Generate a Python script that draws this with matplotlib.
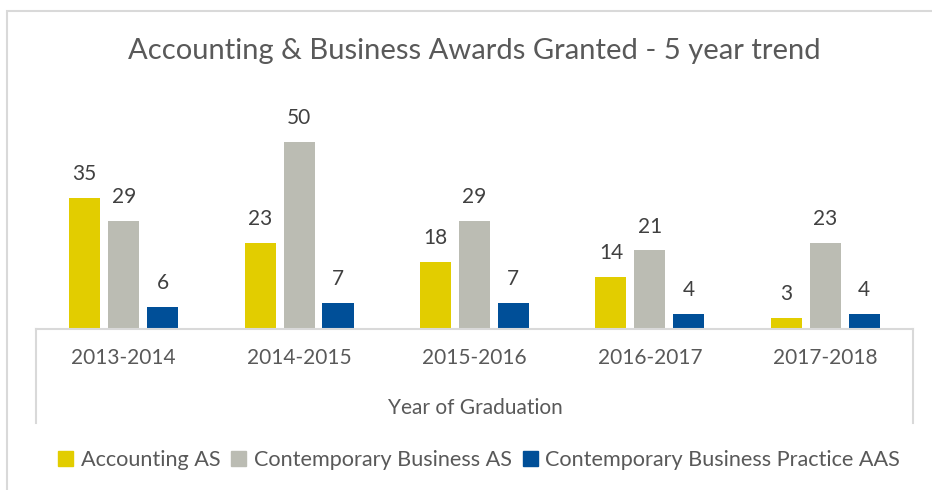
import matplotlib.pyplot as plt
import numpy as np
from matplotlib.patches import Patch, Rectangle

plt.rcParams["font.family"] = ["Lato", "DejaVu Sans"]

years = ["2013-2014", "2014-2015", "2015-2016", "2016-2017", "2017-2018"]
series_names = [
    "Accounting AS",
    "Contemporary Business AS",
    "Contemporary Business Practice AAS",
]
accounting = [35, 23, 18, 14, 3]
contemporary = [29, 50, 29, 21, 23]
practice = [6, 7, 7, 4, 4]
colors = ["#E2CD00", "#BBBCB3", "#004F98"]

fig = plt.figure(figsize=(9.32, 4.9), dpi=100)
ax = fig.add_axes([0.0386, 0.3286, 0.941, 0.4197])

x = np.arange(len(years))
width = 0.177
step = 0.222
for i, (vals, name) in enumerate(zip([accounting, contemporary, practice], series_names)):
    bars = ax.bar(x + (i - 1) * step, vals, width, color=colors[i], label=name)
    for b, v in zip(bars, vals):
        ax.annotate(str(v), (b.get_x() + b.get_width() / 2, v),
                    xytext=(0, 10), textcoords="offset points",
                    ha="center", va="bottom", fontsize=15, color="#404040")

ax.set_xlim(-0.5, 4.5)
ax.set_ylim(0, 55)
ax.set_yticks([])
ax.set_xticks(x)
ax.set_xticklabels(years, fontsize=15, color="#595959")
ax.tick_params(axis="x", length=0, pad=14)
for s in ["left", "right", "top"]:
    ax.spines[s].set_visible(False)
ax.spines["bottom"].set_color("#D9D9D9")
ax.spines["bottom"].set_linewidth(1.5)

# category box lines below the axis
for xa in [0, 1]:
    ax.plot([xa, xa], [0, -0.457], transform=ax.transAxes, color="#D9D9D9",
            lw=1.5, clip_on=False)

fig.text(475 / 932, 1 - 408 / 490, "Year of Graduation", ha="center", va="center",
         fontsize=15, color="#595959")
fig.text(474 / 932, 1 - 51 / 490, "Accounting & Business Awards Granted - 5 year trend",
         ha="center", va="center", fontsize=21, color="#595959")

handles = [Patch(color=c) for c in colors]
fig.legend(handles, series_names, loc="center", bbox_to_anchor=(479 / 932, 1 - 460 / 490),
           ncol=3, frameon=False, fontsize=15.6, labelcolor="#595959",
           handlelength=0.7, handleheight=0.7, handletextpad=0.35, columnspacing=0.5)

fig.patches.append(Rectangle((7 / 932, -0.1), 1.0, 1.1 - 11 / 490,
                             transform=fig.transFigure, fill=False,
                             edgecolor="#D9D9D9", lw=1.5))

fig.savefig("out.png", dpi=100)
